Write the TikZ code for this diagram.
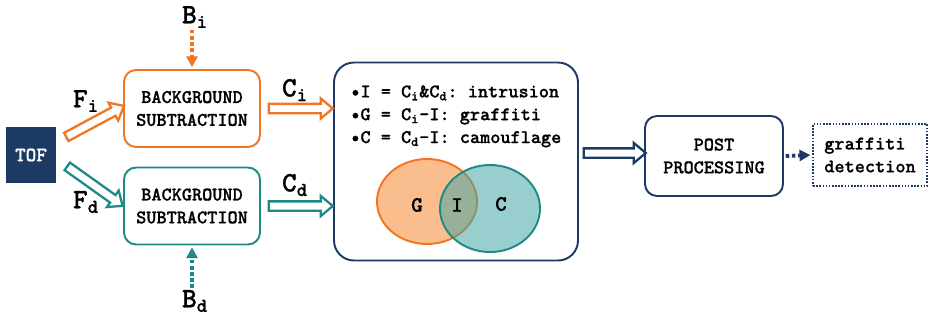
\documentclass[tikz,border=0pt]{standalone}
\usepackage{fontspec}
\setmonofont{lmmonolt10}[Extension=.otf, UprightFont=*-regular, BoldFont=*-bold, BoldFeatures={FakeBold=0.8}]
\usepackage{tikz}
\usetikzlibrary{shapes.arrows,arrows.meta,calc}

\definecolor{tofblue}{RGB}{28,58,100}
\definecolor{fgorange}{RGB}{242,117,36}
\definecolor{fgteal}{RGB}{30,138,136}
\definecolor{vennorange}{RGB}{250,190,142}
\definecolor{vennteal}{RGB}{70,165,165}

\tikzset{
	bgbox/.style={draw, rounded corners=2.4mm, line width=1.1pt, fill=white, align=center,
		minimum width=27.2mm, minimum height=15.4mm, font=\fontsize{11}{13}\selectfont\ttfamily\bfseries},
	lbl/.style={inner sep=1pt, font=\fontsize{16}{18}\selectfont\ttfamily\bfseries},
	harrow/.style={single arrow, fill=white, line width=1.3pt, inner sep=0.7mm,
		single arrow head extend=1.1mm, single arrow tip angle=80},
	dotarrow/.style={line width=2.2pt, dash pattern=on 2pt off 1.5pt, -{Triangle[length=2.2mm,width=2.2mm]}}
}

\begin{document}
\begin{tikzpicture}[x=0.2mm,y=-0.2mm]

	\useasboundingbox (0,0) rectangle (931,321);

	% sensor and the two subtraction stages
	\node[fill=tofblue, text=white, minimum width=10mm, minimum height=11.2mm,
		font=\fontsize{11.5}{13}\selectfont\ttfamily\bfseries] (tof) at (31,155) {TOF};
	\node[bgbox, draw=fgorange] (bgi) at (192,108.5) {BACKGROUND\\SUBTRACTION};
	\node[bgbox, draw=fgteal] (bgd) at (192,206) {BACKGROUND\\SUBTRACTION};

	\node[lbl] (bi) at (195,17) {B\textsubscript{i}};
	\node[lbl] (bd) at (195,301) {B\textsubscript{d}};
	\node[lbl] (fi) at (86,101) {F\textsubscript{i}};
	\node[lbl] (fd) at (86,202) {F\textsubscript{d}};
	\node[lbl] (ci) at (295,90) {C\textsubscript{i}};
	\node[lbl] (cd) at (295,185) {C\textsubscript{d}};

	\draw[dotarrow, fgorange] (bi.south -| bgi.north) -- ([yshift=1pt]bgi.north);
	\draw[dotarrow, fgteal] (bd.north -| bgd.south) -- ([yshift=-1pt]bgd.south);

	% combination box
	\node[draw=tofblue, rounded corners=4mm, line width=1.1pt, minimum width=48.8mm,
		minimum height=39.6mm] (logic) at (456,161.5) {};
	\node[anchor=north west, align=left, inner sep=0pt,
		font=\fontsize{11}{13}\selectfont\ttfamily\bfseries] (rules) at (350,85)
		{•I = C\textsubscript{i}\&C\textsubscript{d}: intrusion\\
		 •G = C\textsubscript{i}-I: graffiti\\
		 •C = C\textsubscript{d}-I: camouflage};

	\fill[vennorange] (427,201.5) ellipse [x radius=10mm, y radius=8.5mm];
	\draw[fgorange, line width=1.1pt] (427,201.5) ellipse [x radius=10mm, y radius=8.5mm];
	\fill[vennteal, opacity=0.55] (490,208.5) ellipse [x radius=10mm, y radius=8.7mm];
	\draw[fgteal, line width=1.1pt] (490,208.5) ellipse [x radius=10mm, y radius=8.7mm];
	\node[font=\fontsize{12.5}{14}\selectfont\ttfamily\bfseries] (g) at (417,205) {G};
	\node[font=\fontsize{12.5}{14}\selectfont\ttfamily\bfseries] (i) at (457,205) {I};
	\node[font=\fontsize{12.5}{14}\selectfont\ttfamily\bfseries] (c) at (501,204) {C};

	% post processing and output
	\node[bgbox, draw=tofblue, minimum width=27.6mm, minimum height=16mm] (post) at (714,156) {POST\\PROCESSING};
	\node[draw=tofblue, line width=0.9pt, dash pattern=on 0.9pt off 0.9pt, align=left,
		minimum width=22.8mm, minimum height=12.4mm,
		font=\fontsize{11}{13}\selectfont\ttfamily\bfseries] (out) at (870,155) {graffiti\\detection};

	% hollow arrows
	\path ($(tof.east)+(8,-17)$) -- ($(bgi.west)+(-2,-1)$)
		node[midway, sloped, harrow, draw=fgorange, minimum height=13.1mm] {};
	\path ($(tof.east)+(9,10)$) -- ($(bgd.west)+(-3,-2)$)
		node[midway, sloped, harrow, draw=fgteal, minimum height=13.6mm] {};
	\path ($(bgi.east)+(6,0)$) -- ($(bgi.east -| logic.west)+(-4,0)$)
		node[midway, sloped, harrow, draw=fgorange, minimum height=12.8mm] {};
	\path ($(bgd.east)+(6,0)$) -- ($(bgd.east -| logic.west)+(-4,0)$)
		node[midway, sloped, harrow, draw=fgteal, minimum height=12.8mm] {};
	\path ($(post.west -| logic.east)+(3,-3)$) -- ($(post.west)+(-2,-3)$)
		node[midway, sloped, harrow, draw=tofblue, minimum height=12.4mm] {};

	\draw[dotarrow, tofblue] ([xshift=1pt]post.east) -- ([xshift=-1pt]out.west);

\end{tikzpicture}
\end{document}
